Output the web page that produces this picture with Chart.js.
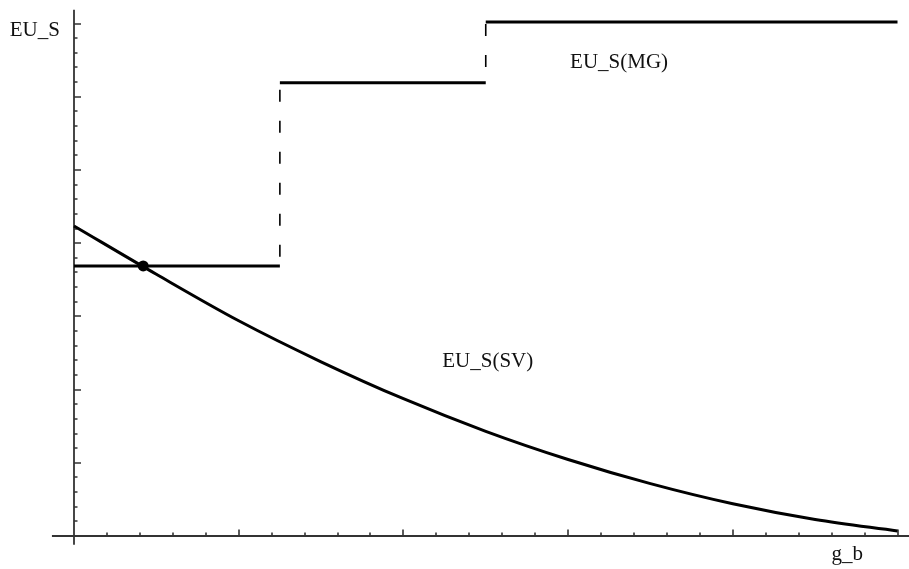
<!DOCTYPE html>
<html>
<head>
<meta charset="utf-8">
<script src="https://cdn.jsdelivr.net/npm/chart.js@4/dist/chart.umd.min.js"></script>
<style>
html,body{margin:0;padding:0;background:#fff;}
#wrap{width:909px;height:569px;position:relative;}
</style>
</head>
<body>
<div id="wrap"><canvas id="c" width="909" height="569"></canvas></div>
<script>
// ---- data ----
const curveX = [0, 0.5, 1.0, 1.5, 2.0, 2.5, 3.0, 3.5, 4.0, 4.5, 5.0];
const curveY = [4.235, 3.575, 2.94, 2.38, 1.875, 1.43, 1.045, 0.715, 0.44, 0.225, 0.068];
const stepEdges = [0, 1.25, 2.5, 5.0];
const stepLevels = [3.69, 6.19, 7.02];
const dotPoint = [0.42, 3.69];
const xMajorTicks = [1, 2, 3, 4, 5];
const xMinorTicks = [0.2,0.4,0.6,0.8,1.2,1.4,1.6,1.8,2.2,2.4,2.6,2.8,3.2,3.4,3.6,3.8,4.2,4.4,4.6,4.8];
const yMajorTicks = [1, 2, 3, 4, 5, 6, 7];
const yMinorTicks = [0.2,0.4,0.6,0.8,1.2,1.4,1.6,1.8,2.2,2.4,2.6,2.8,3.2,3.4,3.6,3.8,4.2,4.4,4.6,4.8,5.2,5.4,5.6,5.8,6.2,6.4,6.6,6.8];
const axisXRange = [-0.134, 5.07];
const axisYRange = [-0.12, 7.19];
const labels = [
  {text: 'EU_S', x: -0.39, y: 6.825},
  {text: 'EU_S(MG)', x: 3.012, y: 6.39},
  {text: 'EU_S(SV)', x: 2.236, y: 2.31},
  {text: 'g_b', x: 4.6, y: -0.325}
];

// ---- datasets built from arrays ----
const curveData = curveX.map((x, i) => ({x: x, y: curveY[i]}));
const levelDatasets = stepLevels.map((lv, i) => ({
  type: 'line',
  data: [{x: stepEdges[i], y: lv}, {x: stepEdges[i + 1], y: lv}],
  borderColor: '#000', borderWidth: 3, pointRadius: 0, tension: 0, fill: false
}));
const jumpDatasets = stepLevels.slice(1).map((lv, i) => ({
  type: 'line',
  data: [{x: stepEdges[i + 1], y: lv}, {x: stepEdges[i + 1], y: stepLevels[i]}],
  borderColor: '#000', borderWidth: 1.6, borderDash: [12, 19], borderDashOffset: i === 0 ? 24 : 29,
  pointRadius: 0, tension: 0, fill: false
}));

const axesPlugin = {
  id: 'axes',
  beforeDatasetsDraw(chart) {
    const ctx = chart.ctx, sx = chart.scales.x, sy = chart.scales.y;
    const x0 = sx.getPixelForValue(0), y0 = sy.getPixelForValue(0);
    ctx.save();
    ctx.strokeStyle = '#333';
    ctx.lineWidth = 1.8;
    ctx.beginPath();
    ctx.moveTo(sx.getPixelForValue(axisXRange[0]), y0);
    ctx.lineTo(sx.getPixelForValue(axisXRange[1]), y0);
    ctx.moveTo(x0, sy.getPixelForValue(axisYRange[0]));
    ctx.lineTo(x0, sy.getPixelForValue(axisYRange[1]));
    ctx.stroke();
    ctx.lineWidth = 1.6;
    ctx.beginPath();
    xMinorTicks.forEach(v => { const p = Math.round(sx.getPixelForValue(v)); ctx.moveTo(p, y0); ctx.lineTo(p, y0 - 3.5); });
    xMajorTicks.forEach(v => { const p = Math.round(sx.getPixelForValue(v)); ctx.moveTo(p, y0); ctx.lineTo(p, y0 - 6.5); });
    yMinorTicks.forEach(v => { const p = Math.round(sy.getPixelForValue(v)); ctx.moveTo(x0, p); ctx.lineTo(x0 + 3.5, p); });
    yMajorTicks.forEach(v => { const p = Math.round(sy.getPixelForValue(v)); ctx.moveTo(x0, p); ctx.lineTo(x0 + 7, p); });
    ctx.stroke();
    ctx.restore();
  },
  afterDraw(chart) {
    const ctx = chart.ctx, sx = chart.scales.x, sy = chart.scales.y;
    ctx.save();
    ctx.fillStyle = '#111';
    ctx.font = '21px "Liberation Serif", "Times New Roman", serif';
    ctx.textBaseline = 'alphabetic';
    ctx.textAlign = 'left';
    labels.forEach(l => ctx.fillText(l.text, sx.getPixelForValue(l.x), sy.getPixelForValue(l.y)));
    ctx.restore();
  }
};

new Chart(document.getElementById('c'), {
  type: 'line',
  data: {
    datasets: [
      {
        type: 'line', data: curveData, borderColor: '#000', borderWidth: 3,
        pointRadius: 0, cubicInterpolationMode: 'monotone', fill: false
      },
      ...levelDatasets,
      ...jumpDatasets,
      {
        type: 'scatter', data: [{x: dotPoint[0], y: dotPoint[1]}],
        backgroundColor: '#000', borderColor: '#000', pointRadius: 5.5, borderWidth: 0
      }
    ]
  },
  options: {
    responsive: false,
    devicePixelRatio: 1,
    animation: false,
    layout: {padding: 0, autoPadding: false},
    plugins: {legend: {display: false}, tooltip: {enabled: false}, title: {display: false}},
    scales: {
      x: {type: 'linear', min: -0.4493, max: 5.0698, display: false},
      y: {type: 'linear', min: -0.4508, max: 7.322, display: false}
    }
  },
  plugins: [axesPlugin]
});
</script>
</body>
</html>
